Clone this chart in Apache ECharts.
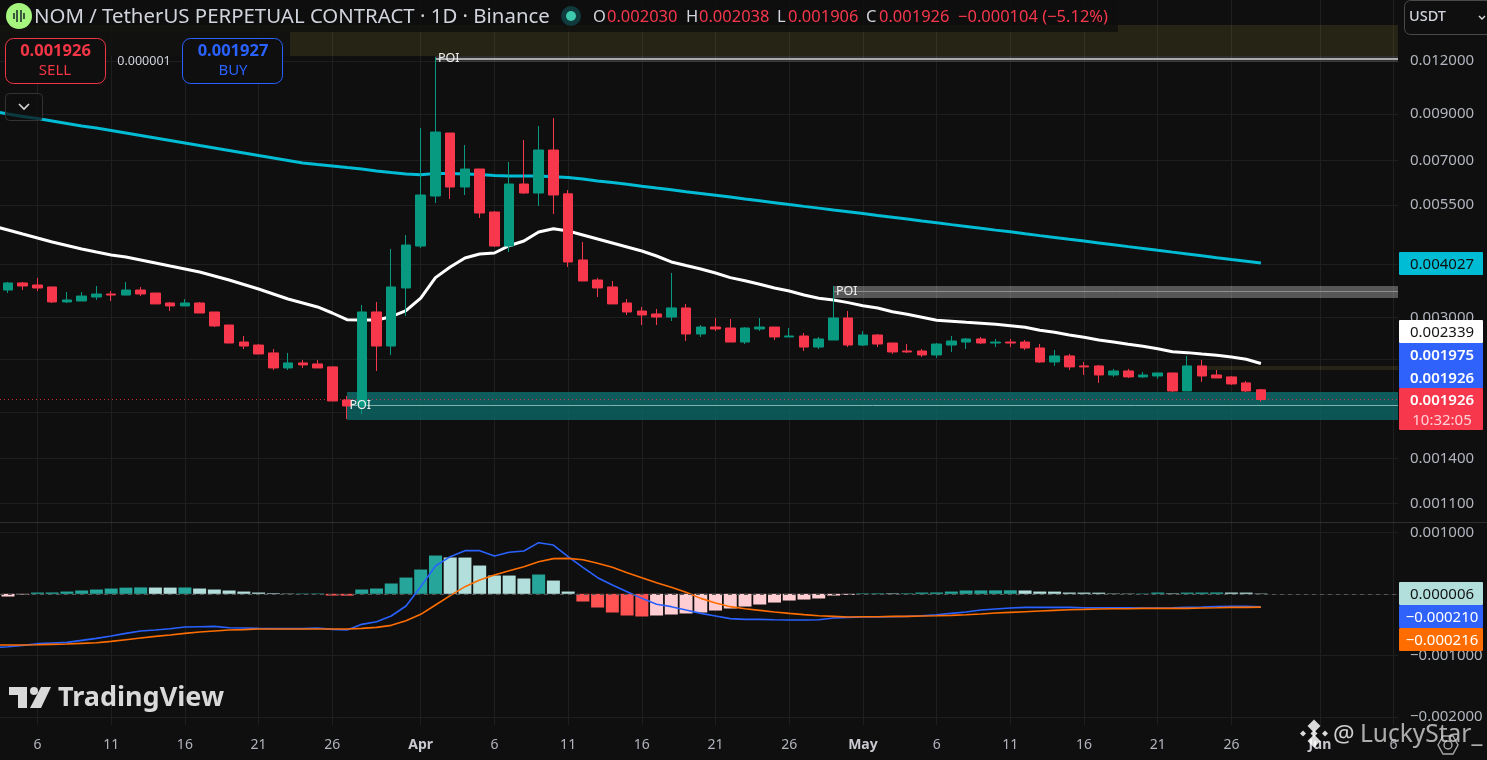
<!DOCTYPE html>
<html><head><meta charset="utf-8">
<style>html,body{margin:0;padding:0;background:#0f0f0f;overflow:hidden}#c{width:1487px;height:760px}</style>
<script src="https://cdn.jsdelivr.net/npm/echarts@6/dist/echarts.min.js"></script>
</head><body><div id="c"></div>
<script>
// open, close, low, high; one row per day, day 0 = 3 March
const candles = [
[0.003479,0.003479,0.003442,0.003514],
[0.003479,0.003614,0.003423,0.003634],[0.003614,0.003556,0.003479,0.003634],[0.003575,0.003518,0.003460,0.003714],[0.003537,0.003262,0.003244,0.003537],
[0.003262,0.003297,0.003244,0.003442],[0.003279,0.003368,0.003279,0.003442],[0.003350,0.003405,0.003297,0.003556],[0.003405,0.003386,0.003279,0.003460],
[0.003386,0.003479,0.003386,0.003634],[0.003479,0.003405,0.003368,0.003537],[0.003423,0.003227,0.003227,0.003423],[0.003244,0.003192,0.003106,0.003262],
[0.003192,0.003244,0.003192,0.003314],[0.003244,0.003073,0.003073,0.003262],[0.003090,0.002865,0.002849,0.003090],[0.002880,0.002613,0.002613,0.002880],
[0.002627,0.002571,0.002530,0.002714],[0.002585,0.002463,0.002463,0.002599],[0.002477,0.002284,0.002259,0.002530],[0.002284,0.002347,0.002259,0.002477],
[0.002347,0.002322,0.002284,0.002385],[0.002334,0.002284,0.002284,0.002385],[0.002297,0.001911,0.001911,0.002297],[0.001921,0.001860,0.001733,0.001963],
[0.001860,0.003090,0.001781,0.003209],[0.003090,0.002571,0.002247,0.003262],[0.002571,0.003537,0.002450,0.004342],[0.003518,0.004436,0.003024,0.004683],
[0.004412,0.005812,0.004365,0.008344],[0.005780,0.008166,0.005566,0.012244],[0.008122,0.006068,0.005688,0.008122],[0.006068,0.006688,0.005812,0.007612],
[0.006688,0.005274,0.005133,0.006688],[0.005302,0.004412,0.004389,0.005331],[0.004412,0.006167,0.004272,0.006946],[0.006167,0.005875,0.005849,0.007821],
[0.005875,0.007410,0.005477,0.008435],[0.007410,0.005812,0.005246,0.008807],[0.005849,0.004048,0.003939,0.005971],[0.004092,0.003653,0.003653,0.004509],
[0.003673,0.003518,0.003350,0.003714],[0.003537,0.003227,0.003227,0.003653],[0.003244,0.003090,0.003040,0.003314],[0.003106,0.003040,0.002880,0.003175],
[0.003057,0.003007,0.002880,0.003141],[0.003007,0.003158,0.002943,0.003815],[0.003158,0.002744,0.002642,0.003227],[0.002744,0.002849,0.002700,0.002880],
[0.002849,0.002819,0.002789,0.002991],[0.002834,0.002627,0.002627,0.002975],[0.002627,0.002834,0.002599,0.002849],[0.002819,0.002849,0.002789,0.002991],
[0.002849,0.002700,0.002656,0.002849],[0.002700,0.002714,0.002700,0.002834],[0.002714,0.002557,0.002503,0.002759],[0.002557,0.002671,0.002530,0.002700],
[0.002656,0.002991,0.002656,0.003556],[0.002991,0.002585,0.002557,0.003106],[0.002585,0.002729,0.002571,0.002789],[0.002729,0.002599,0.002557,0.002744],
[0.002613,0.002490,0.002463,0.002613],[0.002503,0.002490,0.002477,0.002599],[0.002503,0.002450,0.002424,0.002530],[0.002450,0.002599,0.002411,0.002613],
[0.002585,0.002642,0.002490,0.002714],[0.002627,0.002671,0.002530,0.002685],[0.002671,0.002613,0.002599,0.002700],[0.002613,0.002627,0.002557,0.002671],
[0.002627,0.002613,0.002557,0.002671],[0.002627,0.002544,0.002517,0.002656],[0.002544,0.002359,0.002347,0.002599],[0.002359,0.002437,0.002309,0.002517],
[0.002437,0.002297,0.002259,0.002463],[0.002309,0.002297,0.002199,0.002359],[0.002309,0.002199,0.002107,0.002322],[0.002199,0.002247,0.002176,0.002272],
[0.002247,0.002176,0.002164,0.002272],[0.002176,0.002199,0.002164,0.002235],[0.002187,0.002223,0.002153,0.002223],[0.002223,0.002017,0.002006,0.002223],
[0.002017,0.002309,0.002017,0.002437],[0.002309,0.002187,0.002118,0.002385],[0.002199,0.002164,0.002164,0.002259],[0.002176,0.002095,0.002084,0.002187],
[0.002107,0.002017,0.002006,0.002129],[0.002030,0.001926,0.001906,0.002038]
];
const emaWhite = [0.004916,0.004811,0.004707,0.004608,0.004509,0.004425,0.004342,0.004272,0.004204,0.004159,0.004092,0.004026,0.003961,0.003898,0.003836,0.003754,0.003673,0.003585,0.003499,0.003405,0.003314,0.003244,0.003175,0.003073,0.002964,0.002959,0.002959,0.003012,0.003112,0.003332,0.003720,0.003939,0.004136,0.004226,0.004249,0.004420,0.004533,0.004760,0.004845,0.004785,0.004683,0.004583,0.004485,0.004389,0.004295,0.004181,0.004048,0.003972,0.003898,0.003815,0.003720,0.003659,0.003589,0.003518,0.003460,0.003386,0.003327,0.003297,0.003250,0.003197,0.003158,0.003095,0.003051,0.003002,0.002954,0.002938,0.002922,0.002907,0.002891,0.002869,0.002845,0.002799,0.002769,0.002729,0.002696,0.002656,0.002627,0.002595,0.002567,0.002534,0.002494,0.002481,0.002463,0.002447,0.002424,0.002394,0.002339];
const emaCyan = [0.009146,0.009000,0.008879,0.008783,0.008666,0.008550,0.008435,0.008344,0.008232,0.008122,0.008013,0.007906,0.007800,0.007695,0.007591,0.007490,0.007390,0.007291,0.007192,0.007096,0.007002,0.006908,0.006852,0.006797,0.006742,0.006688,0.006616,0.006562,0.006510,0.006485,0.006527,0.006527,0.006510,0.006492,0.006457,0.006440,0.006440,0.006440,0.006415,0.006387,0.006336,0.006268,0.006217,0.006157,0.006095,0.006035,0.005977,0.005916,0.005860,0.005805,0.005750,0.005688,0.005633,0.005577,0.005520,0.005466,0.005414,0.005360,0.005308,0.005257,0.005205,0.005155,0.005105,0.005051,0.005002,0.004953,0.004905,0.004855,0.004808,0.004763,0.004714,0.004667,0.004622,0.004576,0.004531,0.004487,0.004442,0.004398,0.004356,0.004311,0.004269,0.004228,0.004185,0.004144,0.004104,0.004065,0.004027];
const hist = [-0.000060,-0.000044,-0.000011,0.000021,0.000022,0.000037,0.000054,0.000070,0.000086,0.000100,0.000104,0.000102,0.000101,0.000103,0.000086,0.000070,0.000054,0.000037,0.000021,0.000010,0.000005,0.000006,0.000007,-0.000028,-0.000030,0.000070,0.000086,0.000168,0.000265,0.000395,0.000623,0.000591,0.000590,0.000460,0.000298,0.000297,0.000249,0.000314,0.000216,0.000037,-0.000125,-0.000223,-0.000304,-0.000353,-0.000369,-0.000353,-0.000337,-0.000320,-0.000304,-0.000272,-0.000239,-0.000207,-0.000174,-0.000142,-0.000109,-0.000093,-0.000076,-0.000028,-0.000016,0.000008,0.000009,0.000008,0.000009,0.000021,0.000022,0.000037,0.000054,0.000055,0.000056,0.000057,0.000054,0.000037,0.000036,0.000021,0.000020,0.000019,0.000006,0.000005,0.000006,0.000021,0.000008,0.000020,0.000021,0.000022,0.000021,0.000020,0.000006];
const macdLine = [-0.000876,-0.000860,-0.000838,-0.000811,-0.000800,-0.000790,-0.000757,-0.000725,-0.000687,-0.000643,-0.000605,-0.000589,-0.000567,-0.000540,-0.000535,-0.000529,-0.000551,-0.000556,-0.000562,-0.000567,-0.000567,-0.000567,-0.000556,-0.000578,-0.000589,-0.000497,-0.000453,-0.000361,-0.000198,0.000116,0.000452,0.000604,0.000702,0.000702,0.000615,0.000675,0.000696,0.000832,0.000794,0.000604,0.000431,0.000262,0.000143,0.000035,-0.000074,-0.000171,-0.000209,-0.000264,-0.000318,-0.000361,-0.000404,-0.000415,-0.000415,-0.000421,-0.000426,-0.000426,-0.000421,-0.000394,-0.000383,-0.000378,-0.000378,-0.000372,-0.000367,-0.000356,-0.000340,-0.000318,-0.000296,-0.000264,-0.000247,-0.000231,-0.000220,-0.000220,-0.000220,-0.000220,-0.000226,-0.000226,-0.000226,-0.000226,-0.000231,-0.000231,-0.000226,-0.000220,-0.000215,-0.000208,-0.000204,-0.000204,-0.000210];
const signalLine = [-0.000833,-0.000833,-0.000833,-0.000828,-0.000822,-0.000817,-0.000806,-0.000795,-0.000773,-0.000746,-0.000719,-0.000692,-0.000670,-0.000643,-0.000622,-0.000605,-0.000589,-0.000583,-0.000573,-0.000573,-0.000573,-0.000573,-0.000573,-0.000573,-0.000573,-0.000562,-0.000546,-0.000513,-0.000437,-0.000334,-0.000182,-0.000030,0.000116,0.000225,0.000306,0.000376,0.000441,0.000523,0.000572,0.000577,0.000555,0.000496,0.000431,0.000344,0.000262,0.000181,0.000105,0.000024,-0.000074,-0.000150,-0.000209,-0.000242,-0.000269,-0.000296,-0.000318,-0.000339,-0.000356,-0.000367,-0.000378,-0.000372,-0.000372,-0.000367,-0.000367,-0.000361,-0.000356,-0.000350,-0.000340,-0.000329,-0.000313,-0.000302,-0.000291,-0.000280,-0.000269,-0.000258,-0.000253,-0.000247,-0.000242,-0.000242,-0.000237,-0.000237,-0.000237,-0.000237,-0.000231,-0.000226,-0.000220,-0.000220,-0.000216];
const priceTicks = [0.012,0.009,0.007,0.0055,0.004,0.003,0.0024,0.0018,0.0014,0.0011];
const macdTicks = [0.001,0,-0.001,-0.002];
const timeTickDays = [3,8,13,18,23,29,34,39,44,49,54,59,64,69,74,79,84,90,95];
const timeTickLabels = ['6','11','16','21','26','Apr','6','11','16','21','26','May','6','11','16','21','26','Jun','6'];
// zones: [first day, top, bottom, centre]
const zoneSupply = [0.4573,0.014553,0.012309];
const zoneSmall = [82,0.002309,0.002259];
const poi1 = [30,0.012309,0.011918,0.012132];
const poi2 = [57,0.003556,0.003332,0.003451];
const poi3 = [24,0.002006,0.001725,0.001867];
const lastPrice = 0.001926;

const xMin = 0.4573, xMax = 95.30;
const F = '"Noto Sans", sans-serif';
const pair = a => a.map((v,i)=>[i,v]);
const fmt = v => (v<0?'\u2212':'')+Math.abs(v).toFixed(6);

const xCommon = {type:'value',min:xMin,max:xMax,axisLine:{show:false},axisPointer:{show:false},
  axisTick:{show:false,customValues:timeTickDays},
  splitLine:{show:true,lineStyle:{color:'#1f1f1f',width:1}}};
const zone = (x0,top,bot,color)=>[{xAxis:x0,yAxis:top,itemStyle:{color}},{xAxis:xMax,yAxis:bot}];
const hline = (x0,y,color,w)=>[{coord:[x0,y],lineStyle:{color,width:w,type:'solid'}},{coord:[xMax,y]}];
const poiPt = (x0,y)=>({coord:[x0,y],symbol:'circle',symbolSize:1,itemStyle:{color:'rgba(0,0,0,0)'},label:{show:true,position:'right',distance:2,formatter:'POI',color:'#f0f0f0',fontFamily:F,fontSize:12.5}});

const option = {
  backgroundColor:'#0f0f0f',animation:false,
  grid:[{left:0,top:0,width:1398,height:522},{left:0,top:523,width:1398,height:202}],
  xAxis:[
    Object.assign({},xCommon,{gridIndex:0,axisLabel:{show:false,customValues:timeTickDays}}),
    Object.assign({},xCommon,{gridIndex:1,axisLabel:{show:true,customValues:timeTickDays,hideOverlap:false,margin:13,color:'#b2b5be',fontFamily:F,fontSize:14,
      formatter:v=>{const l=timeTickLabels[timeTickDays.indexOf(v)]||'';return /[A-Z]/.test(l)?'{b|'+l+'}':l;},
      rich:{b:{fontWeight:'bold',color:'#c8cad0',fontFamily:F,fontSize:14}}}})
  ],
  yAxis:[
    {type:'log',logBase:10,gridIndex:0,position:'right',min:0.000994,max:0.01666,axisLine:{show:false},axisTick:{show:false},
     axisLabel:{show:false},splitLine:{show:false}},
    {type:'value',gridIndex:1,position:'right',min:-0.002134,max:0.001152,axisLine:{show:false},axisTick:{show:false,customValues:macdTicks},
     axisLabel:{show:true,customValues:macdTicks,margin:12,color:'#b2b5be',fontFamily:F,fontSize:15,formatter:fmt},
     splitLine:{show:true,lineStyle:{color:'#1f1f1f'}}}
  ],
  series:[
    {name:'priceGrid',type:'line',xAxisIndex:0,yAxisIndex:0,data:[],z:0,silent:true,
     markLine:{silent:true,symbol:'none',z:0,animation:false,precision:8,
       lineStyle:{color:'#1f1f1f',width:1,type:'solid'},
       label:{show:true,position:'end',distance:12,color:'#b2b5be',fontFamily:F,fontSize:15,formatter:p=>p.value.toFixed(6)},
       data:priceTicks.map(v=>({yAxis:v}))}},
    {name:'zones',type:'line',xAxisIndex:0,yAxisIndex:0,data:[],z:1,silent:true,
     markArea:{silent:true,z:1,animation:false,label:{show:false},data:[
       zone(zoneSupply[0],zoneSupply[1],zoneSupply[2],'rgba(228,208,73,0.11)'),
       zone(zoneSmall[0],zoneSmall[1],zoneSmall[2],'rgba(228,208,73,0.11)'),
       zone(poi1[0],poi1[1],poi1[2],'rgba(255,255,255,0.13)'),
       zone(poi2[0],poi2[1],poi2[2],'rgba(255,255,255,0.30)'),
       zone(poi3[0],poi3[1],poi3[2],'rgba(10,105,105,0.78)'),
       zone(poi3[0],poi3[1],poi3[3],'rgba(40,170,150,0.07)')
     ]},
     markLine:{silent:true,symbol:'none',z:2,animation:false,precision:8,label:{show:false},data:[
       hline(poi1[0],poi1[3],'#a9a9a9',2),
       hline(poi2[0],poi2[3],'#8e8e8e',1),
       hline(poi3[0],poi3[3],'#7fb3ae',1),
       [{coord:[xMin,lastPrice],lineStyle:{color:'rgba(247,55,76,0.75)',width:1,type:[1,3]}},{coord:[xMax,lastPrice]}]
     ]}},
    {name:'EMA long',type:'line',xAxisIndex:0,yAxisIndex:0,data:pair(emaCyan),showSymbol:false,symbol:'none',z:3,lineStyle:{color:'#00bcd4',width:3},silent:true},
    {name:'EMA short',type:'line',xAxisIndex:0,yAxisIndex:0,data:pair(emaWhite),showSymbol:false,symbol:'none',z:3,lineStyle:{color:'#ffffff',width:3},silent:true},
    {name:'NOM',type:'candlestick',xAxisIndex:0,yAxisIndex:0,barWidth:10,z:4,silent:true,
     data:candles.map((c,i)=>[i,c[0],c[1],c[2],c[3]]),
     itemStyle:{color:'#089981',color0:'#f7374c',borderColor:'#089981',borderColor0:'#f7374c',borderWidth:1}},
    {name:'labels',type:'line',xAxisIndex:0,yAxisIndex:0,data:[],z:6,silent:true,
     markPoint:{silent:true,z:6,animation:false,data:[poiPt(poi1[0],poi1[3]),poiPt(poi2[0],poi2[3]),poiPt(poi3[0],poi3[3])]}},
    {name:'Histogram',type:'bar',xAxisIndex:1,yAxisIndex:1,barWidth:13,z:2,silent:true,
     data:hist.map((v,i)=>{const p=i?hist[i-1]:v;return {value:[i,v],itemStyle:{color:v>=0?(v>=p?'#26a69a':'#b2dfdb'):(v<p?'#ff5252':'#ffcdd2')}};}),
     markLine:{silent:true,symbol:'none',z:5,animation:false,precision:8,label:{show:false},lineStyle:{color:'#555',width:1,type:[4,4]},data:[{yAxis:0}]}},
    {name:'MACD',type:'line',xAxisIndex:1,yAxisIndex:1,data:pair(macdLine),symbol:'none',z:3,lineStyle:{color:'#2962ff',width:1.6},silent:true},
    {name:'Signal',type:'line',xAxisIndex:1,yAxisIndex:1,data:pair(signalLine),symbol:'none',z:3,lineStyle:{color:'#ff6d00',width:1.6},silent:true}
  ],
  graphic:{elements:[]}
};

const Z=100, g=[];
const rect=(x,y,w,h,fill,extra)=>g.push({type:'rect',z:Z,silent:true,shape:{x,y,width:w,height:h,r:(extra&&extra.r)||0},style:{fill,stroke:extra&&extra.stroke,lineWidth:extra&&extra.stroke?1:0}});
const txt=(x,y,text,fill,size,o)=>g.push({type:'text',z:Z+1,silent:true,style:Object.assign({x,y:y+1,text,fill,font:((o&&o.weight)||'normal')+' '+size+'px '+F,align:(o&&o.align)||'left',verticalAlign:'middle',opacity:(o&&o.opacity)||1})});
const badge=(y,h,fill,tc,s,o)=>{rect(1399,y,84,h,fill,{r:1});txt(1442,y+h/2,s,tc,15,Object.assign({align:'center'},o||{}));};

rect(0,0,1118,32,'rgba(15,15,15,0.82)');
rect(0,32,290,24,'rgba(15,15,15,0.9)');
g.push({type:'circle',z:Z+1,silent:true,shape:{cx:19,cy:16,r:13},style:{fill:'#a6f57f'}});
[[14,13,19],[17,10,22],[21,10,22],[24,13,19]].forEach(a=>g.push({type:'line',z:Z+2,silent:true,shape:{x1:a[0],y1:a[1],x2:a[0],y2:a[2]},style:{stroke:'#2f4a35',lineWidth:1.8}}));
txt(34,16,'NOM / TetherUS PERPETUAL CONTRACT \u00b7 1D \u00b7 Binance','#d1d4dc',20.4);
g.push({type:'circle',z:Z+1,silent:true,shape:{cx:571,cy:16,r:10},style:{fill:'#103a3c'}});
g.push({type:'circle',z:Z+2,silent:true,shape:{cx:571,cy:16,r:5},style:{fill:'#3dc9ad'}});
const R='#f7374c',W='#d1d4dc';
[[593,'O',607,'0.002030'],[686,'H',699,'0.002038'],[777,'L',788,'0.001906'],[866,'C',879,'0.001926']].forEach(a=>{txt(a[0],16,a[1],W,16.5);txt(a[2],16,a[3],R,16.5);});
txt(958,16,'\u22120.000104 (\u22125.12%)',R,16.5);
rect(5.5,38.5,100,45,'#0f0f0f',{stroke:'#f23645',r:8});
txt(55.5,50,'0.001926','#f23645',16.5,{align:'center',weight:'bold'});
txt(55,70,'SELL','#f23645',15,{align:'center'});
txt(144,60,'0.000001','#d1d4dc',12.5,{align:'center'});
rect(182.5,38.5,100,45,'#0f0f0f',{stroke:'#2962ff',r:8});
txt(233,50,'0.001927','#2962ff',16.5,{align:'center',weight:'bold'});
txt(233,70,'BUY','#2962ff',15,{align:'center'});
rect(5.5,93.5,37,27,'rgba(15,15,15,0.75)',{stroke:'#333',r:4});
g.push({type:'polyline',z:Z+2,silent:true,shape:{points:[[19,104],[24,109],[29,104]]},style:{stroke:'#d8d8d8',lineWidth:1.6,fill:'none'}});
rect(1404.5,0.5,90,34,'#0f0f0f',{stroke:'#4a4a4a',r:6});
txt(1409,16,'USDT','#d1d4dc',14.5,{weight:'500'});
g.push({type:'polyline',z:Z+2,silent:true,shape:{points:[[1479,16],[1482,19],[1485,16]]},style:{stroke:'#d8d8d8',lineWidth:1.4,fill:'none'}});
badge(252,23,'#00bcd4','#0f0f0f','0.004027');
badge(320,23,'#ffffff','#131313','0.002339');
rect(1399,343,84,45,'#2f62fb',{r:0});
txt(1442,355,'0.001975','#ffffff',15,{align:'center',weight:'600'});
txt(1442,378,'0.001926','#ffffff',15,{align:'center',weight:'600'});
rect(1399,388,84,42,'#f7374c',{r:1});
txt(1442,400,'0.001926','#ffffff',15,{align:'center',weight:'600'});
txt(1442,420,'10:32:05','#ffd0d5',15,{align:'center'});
badge(582,23,'#b2dfdb','#131313','0.000006');
badge(605,23,'#2f62fb','#ffffff','\u22120.000210');
badge(628,23,'#ff6d00','#ffffff','\u22120.000216');
g.push({type:'line',z:Z,silent:true,shape:{x1:0,y1:522.5,x2:1487,y2:522.5},style:{stroke:'#2e2e2e',lineWidth:1}});
const TV='#d9d9d9';
g.push({type:'polygon',z:Z+1,silent:true,shape:{points:[[9,687],[27,687],[27,708],[18,708],[18,695],[9,695]]},style:{fill:TV}});
g.push({type:'circle',z:Z+1,silent:true,shape:{cx:34,cy:691,r:4},style:{fill:TV}});
g.push({type:'polygon',z:Z+1,silent:true,shape:{points:[[41,687],[51,687],[41,708],[30,708]]},style:{fill:TV}});
txt(58,697,'TradingView',TV,27,{weight:'bold'});
[[1314,726,6.5],[1303,733.5,3],[1325,733.5,3],[1314,733.5,3.5],[1314,741,6.5]].forEach(d=>g.push({type:'polygon',z:Z+3,silent:true,shape:{points:[[d[0],d[1]-d[2]],[d[0]+d[2],d[1]],[d[0],d[1]+d[2]],[d[0]-d[2],d[1]]]},style:{fill:'rgba(255,255,255,0.85)'}}));
txt(1333,734,'@','rgba(255,255,255,0.8)',24);
txt(1360,734,'LuckyStar_','rgba(225,225,225,0.75)',24.5);
g.push({type:'polygon',z:Z+2,silent:true,shape:{points:[[1438,745],[1443,736],[1453,736],[1458,745],[1453,754],[1443,754]]},style:{fill:'none',stroke:'rgba(220,220,220,0.75)',lineWidth:1.4}});
g.push({type:'circle',z:Z+2,silent:true,shape:{cx:1448,cy:745,r:4},style:{fill:'none',stroke:'rgba(220,220,220,0.75)',lineWidth:1.4}});
option.graphic.elements=g;

const chart=echarts.init(document.getElementById('c'),null,{renderer:'canvas',width:1487,height:760});
chart.setOption(option);
</script></body></html>
